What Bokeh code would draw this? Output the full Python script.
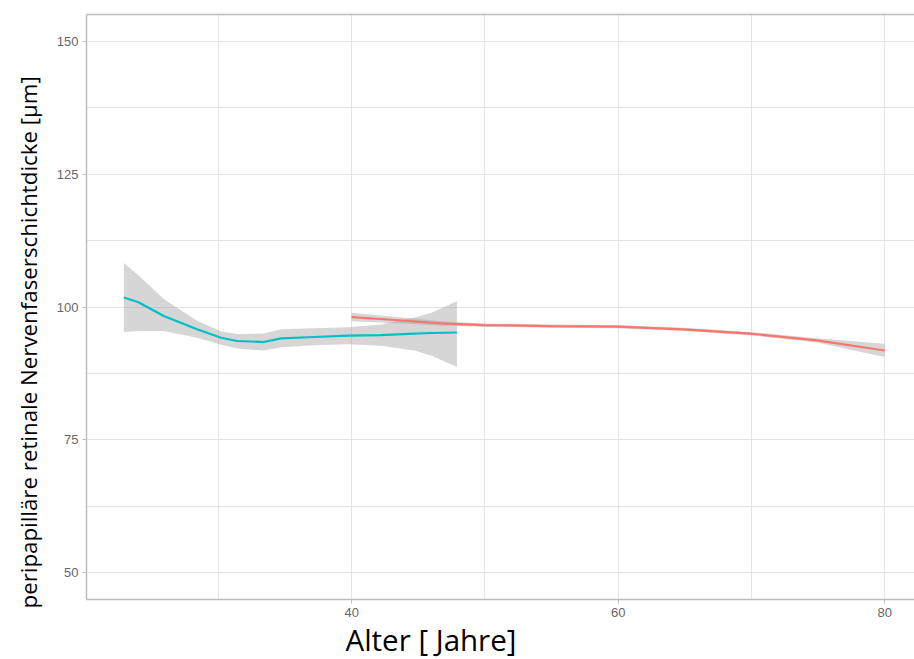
from bokeh.plotting import figure
from bokeh.models import LinearAxis, FixedTicker, Range1d, Title
from bokeh.embed import file_html
from bokeh.resources import INLINE

# Young group (cyan) loess fit with confidence band
young_age = [22.9, 24.0, 25.9, 28.4, 30.2, 31.4, 33.4, 34.7, 37.2, 39.7, 42.2, 44.7, 46.0, 47.9]
young_fit = [101.8, 100.9, 98.3, 95.8, 94.2, 93.6, 93.4, 94.1, 94.35, 94.6, 94.7, 95.0, 95.1, 95.2]
young_lo = [95.3, 95.5, 95.5, 94.2, 92.9, 92.2, 91.8, 92.4, 92.8, 93.0, 92.7, 91.8, 90.8, 88.7]
young_hi = [108.3, 106.0, 101.5, 97.4, 95.4, 94.9, 95.0, 95.8, 96.0, 96.2, 96.7, 98.0, 98.9, 101.1]

# Older group (red) loess fit with confidence band
old_age = [40.0, 43.0, 46.7, 49.9, 55.0, 59.9, 64.9, 69.9, 74.9, 80.0]
old_fit = [98.1, 97.6, 96.9, 96.6, 96.4, 96.3, 95.8, 95.0, 93.7, 91.8]
old_lo = [97.3, 97.0, 96.5, 96.3, 96.1, 96.0, 95.5, 94.7, 93.3, 90.6]
old_hi = [98.9, 98.2, 97.3, 96.9, 96.7, 96.6, 96.1, 95.3, 94.1, 93.1]

x_major = [40, 60, 80]
x_minor = [30, 50, 70]
y_major = [50, 75, 100, 125, 150]
y_minor = [62.5, 87.5, 112.5, 137.5]

x_label = "Alter [ Jahre]"
y_label = "peripapilläre retinale Nervenfaserschichtdicke [µm]"

p = figure(width=914, height=659, output_backend="svg", toolbar_location=None,
           x_range=Range1d(20.1, 82.24), y_range=Range1d(44.9, 155.1),
           min_border_left=86, min_border_right=0, min_border_top=14, min_border_bottom=60)
p.outline_line_color = None
p.background_fill_color = "white"
p.border_fill_color = "white"

band_color = "#999999"
p.varea(x=young_age, y1=young_lo, y2=young_hi, fill_color=band_color, fill_alpha=0.4)
p.varea(x=old_age, y1=old_lo, y2=old_hi, fill_color=band_color, fill_alpha=0.4)
p.line(young_age, young_fit, line_color="#00BFC4", line_width=2.2)
p.line(old_age, old_fit, line_color="#F8766D", line_width=2.2)

grid_col = "#E3E3E3"
p.xaxis.ticker = FixedTicker(ticks=x_major, minor_ticks=x_minor)
p.yaxis.ticker = FixedTicker(ticks=y_major, minor_ticks=y_minor)
for g in (p.xgrid[0], p.ygrid[0]):
    g.grid_line_color = grid_col
    g.grid_line_width = 1
    g.minor_grid_line_color = grid_col
    g.minor_grid_line_width = 1

for ax in (p.xaxis[0], p.yaxis[0]):
    ax.axis_line_color = "#BDBDBD"
    ax.axis_line_width = 1.5
    ax.major_tick_line_color = "#BDBDBD"
    ax.major_tick_out = 4
    ax.major_tick_in = 0
    ax.minor_tick_line_color = None
    ax.major_label_text_font = "Liberation Sans"
    ax.major_label_text_font_size = "13px"
    ax.major_label_text_color = "#666666"

p.xaxis.major_label_standoff = 4
p.yaxis.major_label_standoff = 4

top = LinearAxis(ticker=FixedTicker(ticks=[]), axis_line_color="#BDBDBD", axis_line_width=1.5,
                 major_tick_line_color=None, minor_tick_line_color=None,
                 major_label_text_color=None)
p.add_layout(top, "above")

# axis titles, shifted from the panel centre as in the reference
xt = Title(text=x_label, align="left", offset=259, standoff=-5,
           text_font="Open Sans", text_font_size="29.5px", text_font_style="normal",
           text_color="black")
p.add_layout(xt, "below")
yt = Title(text=y_label, align="left", offset=-9, standoff=20,
           text_font="Open Sans", text_font_size="22.3px", text_font_style="normal",
           text_color="black")
p.add_layout(yt, "left")

open("out.html", "w").write(file_html(p, INLINE))
